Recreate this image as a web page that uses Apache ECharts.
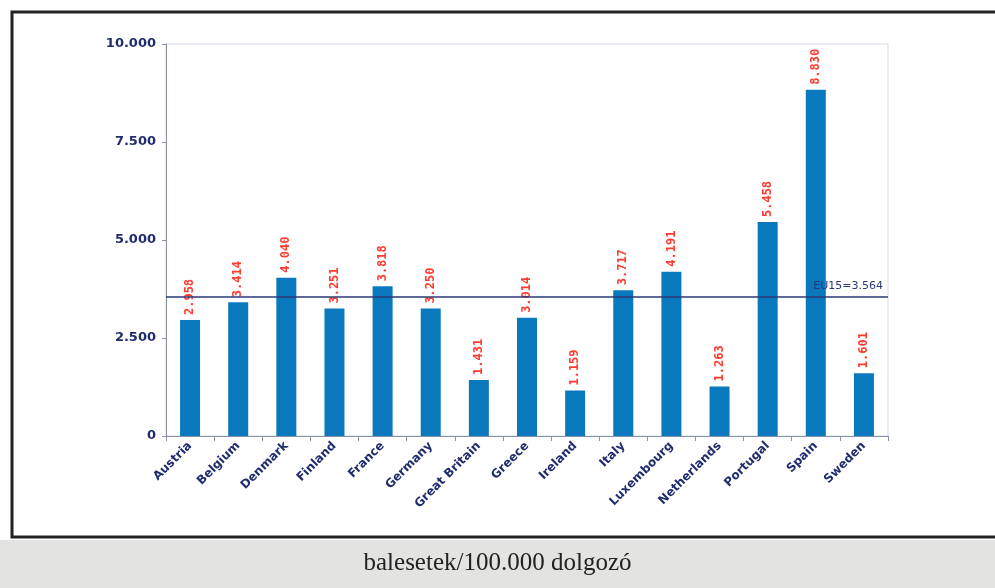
<!DOCTYPE html>
<html>
<head>
<meta charset="utf-8">
<script src="https://cdn.jsdelivr.net/npm/echarts@6/dist/echarts.min.js"></script>
<style>
  html, body { margin: 0; padding: 0; background: #fff; }
  #chart { width: 995px; height: 588px; }
</style>
</head>
<body>
<div id="chart"></div>
<script>
// országok
var countries = ['Austria', 'Belgium', 'Denmark', 'Finland', 'France', 'Germany', 'Great Britain',
  'Greece', 'Ireland', 'Italy', 'Luxembourg', 'Netherlands', 'Portugal', 'Spain', 'Sweden'];
// balesetek / 100.000 dolgozó
var accidents = [2958, 3414, 4040, 3251, 3818, 3250, 1431, 3014, 1159, 3717, 4191, 1263, 5458, 8830, 1601];
var eu15 = 3564;
var yTicks = [0, 2500, 5000, 7500, 10000];

var navy = '#1f2c6e';

// 10000 -> "10.000"
function fmt(v) {
  return String(v).replace(/\B(?=(\d{3})+(?!\d))/g, '.');
}

var chart = echarts.init(document.getElementById('chart'));
var option = {
  backgroundColor: '#fff',
  animation: false,
  graphic: [
    {
      type: 'rect',
      z: -10,
      shape: { x: 0, y: 540, width: 995, height: 48 },
      style: { fill: '#e3e3e1' }
    },
    {
      type: 'rect',
      z: -5,
      shape: { x: 12, y: 12, width: 990, height: 525 },
      style: { fill: '#fff', stroke: '#222', lineWidth: 3 }
    },
    {
      type: 'text',
      left: 'center',
      top: 551,
      style: {
        text: 'balesetek/100.000 dolgozó',
        font: '25px "Liberation Serif", "DejaVu Serif", serif',
        fill: '#222'
      }
    }
  ],
  grid: {
    left: 166,
    right: 107,
    top: 44,
    bottom: 152,
    show: true,
    borderColor: '#d4d8e4',
    borderWidth: 1,
    backgroundColor: 'transparent'
  },
  xAxis: {
    type: 'category',
    data: countries,
    axisLine: { lineStyle: { color: '#8a90a8' } },
    axisTick: { show: true, lineStyle: { color: '#8a90a8' } },
    axisLabel: {
      rotate: 45,
      interval: 0,
      margin: 8,
      color: navy,
      fontFamily: 'DejaVu Sans',
      fontWeight: 'bold',
      fontSize: 12
    }
  },
  yAxis: {
    type: 'value',
    min: 0,
    max: 10000,
    interval: 2500,
    axisLine: { show: true, lineStyle: { color: '#8a90a8' } },
    axisTick: { show: true, length: 4, lineStyle: { color: '#8a90a8' } },
    splitLine: { show: false },
    axisLabel: {
      color: navy,
      fontFamily: 'DejaVu Sans',
      fontWeight: 'bold',
      fontSize: 13,
      margin: 10,
      formatter: function (v) { return fmt(v); }
    }
  },
  series: [{
    type: 'bar',
    data: accidents,
    barWidth: 20,
    itemStyle: { color: '#0a78bd' },
    label: {
      show: true,
      position: 'top',
      rotate: 90,
      align: 'left',
      verticalAlign: 'middle',
      distance: 5,
      color: '#ff3b30',
      fontFamily: 'DejaVu Sans Mono',
      fontWeight: 'bold',
      fontSize: 12,
      formatter: function (p) { return fmt(p.value); }
    },
    markLine: {
      silent: true,
      symbol: 'none',
      lineStyle: { color: '#2a3878', width: 1.5, type: 'solid' },
      label: {
        position: 'insideEndTop',
        color: '#2a3878',
        fontFamily: 'DejaVu Sans',
        fontSize: 11,
        formatter: function () { return 'EU15=' + fmt(eu15); }
      },
      data: [{ yAxis: eu15 }]
    }
  }]
};
chart.setOption(option);
</script>
</body>
</html>
